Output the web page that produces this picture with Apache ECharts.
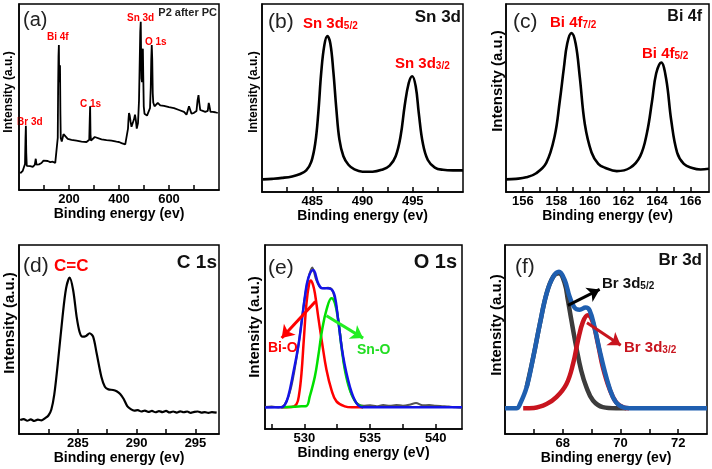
<!DOCTYPE html>
<html><head><meta charset="utf-8">
<script src="https://cdn.jsdelivr.net/npm/echarts@6/dist/echarts.min.js"></script>
<style>html,body{margin:0;padding:0;background:#fff}#c{width:712px;height:469px}</style>
</head><body><div id="c"></div>
<script>
// ---------- data (binding energy eV, intensity a.u. scaled 0-100) ----------
const surveyData = [[5,9],[10,9.5],[15,10.3],[20,10.8],[24,14],[26,28],[27.5,34.5],[29,20],[31,13],[36,12],[45,12.8],[55,12.4],[63,13.5],[67,16.8],[70,13.6],[80,13.8],[90,14.5],[98,15.8],[105,15.2],[115,15.6],[125,15],[135,15.2],[145,14.6],[152,15.2],[155,28],[156.5,55],[158,72],[159.5,78],[160.5,62],[162,58],[163,62],[164,67],[165.5,42],[167,28],[171,26],[175,27],[178,30],[181,29],[186,29.5],[195,27.5],[210,27],[230,26.5],[250,26],[270,25.8],[278,25.2],[281,27],[283,38],[284.5,45],[286,30],[288,26.5],[295,27],[303,28.5],[310,27.8],[330,27.2],[350,26.8],[370,26.5],[390,26],[400,25.8],[410,25.2],[425,24.5],[432,25],[436,33],[438,38],[440,41.4],[443,40],[446,37],[450,34],[456,35],[460,38],[464,40.5],[467,38],[471,33],[476,36],[480,48],[483,70],[485,85],[487,90.5],[488.5,72],[490,60],[492,58],[494,70],[495.5,76],[497,62],[499,45],[502,41],[506,40.5],[512,40],[518,42],[524,44],[527,55],[529,70],[531,78],[533,70],[535,52],[537,47],[542,45],[550,46],[555,46.8],[565,45.5],[580,45.2],[600,44.5],[620,44],[640,43],[660,42],[670,40.5],[675,41.5],[680,45],[685,43],[690,41],[700,41.5],[710,42.5],[714,48],[718,51],[721,47],[725,43],[735,42.5],[745,42],[755,42.5],[759,46.8],[762,45],[766,42],[775,42],[785,41.8],[795,41.4]];

const sn3dData = [[480.1,6.7],[481,7],[482,7.5],[483,8.3],[483.8,9.6],[484.4,11.5],[484.9,16],[485.3,26],[485.6,42],[485.9,64],[486.2,78],[486.5,83],[486.8,79],[487.1,64],[487.4,44],[487.7,28],[488.1,19],[488.6,14.5],[489.2,12],[490,10.8],[491,10.8],[492,12],[492.7,14],[493.3,19],[493.8,30],[494.2,46],[494.6,58],[494.95,61.6],[495.3,56],[495.6,42],[496,26],[496.5,17],[497.2,13],[498,11.8],[499,11.5],[500,11.5]];

const bi4fData = [[155,6.7],[155.6,7],[156.2,7.8],[156.8,10],[157.4,15.5],[157.9,29.7],[158.2,48],[158.45,66],[158.65,79],[158.9,84.5],[159.15,79],[159.4,61],[159.7,36],[160.1,21],[160.5,15],[160.9,12.9],[161.6,11.1],[162.4,12.9],[163,19.1],[163.4,31.4],[163.7,48],[163.95,63],[164.25,68.9],[164.55,60],[164.85,38],[165.2,21],[165.6,15],[166.1,12.8],[166.6,12],[167.1,12.4]];

const c1sData = [[280.1,7.4],[280.4,7.9],[280.7,7.0],[281.0,7.7],[281.3,6.9],[281.6,7.6],[281.9,7.2],[282.2,8.3],[282.5,9.8],[282.75,13],[283.0,21],[283.3,37.4],[283.7,62],[284.0,77],[284.3,82.7],[284.6,76.2],[284.9,62],[285.15,54],[285.4,51.5],[285.7,51.9],[286.0,53.3],[286.3,51.5],[286.6,42.7],[287.0,30.3],[287.3,25],[287.6,23.6],[288.0,23.3],[288.3,22.6],[288.6,21.2],[288.9,18.5],[289.2,14.8],[289.5,13.2],[289.8,12.4],[290.1,12.6],[290.4,11.9],[290.7,12.4],[291.0,11.7],[291.3,12.2],[291.6,11.5],[291.9,12.1],[292.2,11.6],[292.5,12.2],[292.8,11.4],[293.1,11.9],[293.4,11.3],[293.7,12],[294.0,11.5],[294.3,11.9],[294.6,11.2],[294.9,11.7],[295.2,11.9],[295.5,11.3],[295.8,11.6],[296.1,11.2],[296.4,11.6],[296.8,11.3]];

const o1sRaw = [[527.0,11.9],[527.5,12.2],[528,11.7],[528.5,13.3],[529,23],[529.5,43],[530,70],[530.3,82],[530.6,87.8],[530.9,81],[531.2,77],[531.5,76.5],[531.8,76.8],[532.1,75.8],[532.4,68],[532.7,53],[533,36],[533.3,26],[533.6,18.5],[534,14],[534.5,12.6],[535,12.9],[535.5,12.4],[536,13],[536.5,12.6],[537,13.1],[537.5,12.7],[538,13.2],[538.5,14.1],[539,12.9],[539.5,13],[540,12.6],[540.5,12.4],[541,12.2],[541.5,11.8],[542,11.6]];
const o1sBiO = [[528.2,11.8],[529.0,11.9],[529.4,13.5],[529.6,19],[529.78,30.4],[529.95,48],[530.16,68.4],[530.35,78.5],[530.49,80.7],[530.65,78.5],[530.8,73.8],[531.05,61.1],[531.35,46.7],[531.68,32.2],[532.06,21.3],[532.44,15],[533.08,12.3],[533.6,11.8],[534.47,11.8]];
const o1sSnO = [[528.27,11.8],[529.78,12.3],[530.16,12.5],[530.41,17.7],[530.8,28.6],[531.05,39.4],[531.35,53.9],[531.68,64.7],[532.06,71.1],[532.32,68.4],[532.57,59.3],[532.82,44.8],[533.08,32.2],[533.46,21.3],[533.96,14.1],[534.47,11.8]];
const o1sFit = [[527.0,11.75],[528.27,11.8],[528.52,13.2],[528.77,17.7],[529.15,30.4],[529.53,44.8],[529.78,57.5],[530.04,72],[530.29,81.9],[530.67,86.4],[531.05,79.2],[531.35,76.5],[531.68,76.5],[532.06,75.9],[532.32,72],[532.57,59.3],[532.95,39.4],[533.46,23.1],[533.96,14.1],[534.47,11.8],[542.0,11.8]];

const br3dFit = [[66.0,13.6],[66.4,13.6],[66.52,15.9],[66.75,24.8],[66.98,40.7],[67.21,58.4],[67.44,74.3],[67.67,83.2],[67.87,85.8],[68.07,81.4],[68.24,72.6],[68.41,66.9],[68.59,65.8],[68.79,66.9],[68.93,65.5],[69.10,56.6],[69.28,44.2],[69.51,30.1],[69.74,19.5],[69.97,15],[70.31,13.6],[73,13.6]];
const br3d52 = [[66.75,24.8],[66.98,40.7],[67.21,58.4],[67.44,74.3],[67.67,83.2],[67.87,85],[68.07,79.6],[68.18,70.8],[68.30,60.2],[68.47,46],[68.64,33.6],[68.82,24.8],[69.05,17.7],[69.39,14.2],[69.85,13.6],[70.2,13.6]];
const br3d32 = [[66.63,13.6],[67.0,13.8],[67.44,15.9],[67.78,19.5],[68.13,26.5],[68.36,37.2],[68.53,49.6],[68.70,59.3],[68.87,62.8],[69.04,59.3],[69.22,47.8],[69.39,35.4],[69.62,23.9],[69.85,16.8],[70.08,14.2],[70.3,13.6]];

// axis ticks / labels
const ticksA = [100,200,300,400,500,600,700], labelsA = [200,400,600];
const ticksB = [482.5,485,487.5,490,492.5,495,497.5], labelsB = [485,490,495];
const ticksC = [156,157,158,159,160,161,162,163,164,165,166], labelsC = [156,158,160,162,164,166];
const ticksD = [282.5,285,287.5,290,292.5,295], labelsD = [285,290,295];
const ticksE = [527.5,530,532.5,535,537.5,540], labelsE = [530,535,540];
const ticksF = [67,68,69,70,71,72], labelsF = [68,70,72];

// ---------- chart ----------
const FONT = '"Liberation Sans", Arial, sans-serif';
const grids = [
  {left:19, top:4, width:200, height:186},
  {left:262, top:4, width:201, height:188},
  {left:506, top:4, width:203, height:188},
  {left:19, top:245, width:200, height:189},
  {left:265, top:245, width:197, height:184},
  {left:505, top:245, width:202, height:189}
].map(g => Object.assign(g, {show:true, borderColor:'#000', borderWidth:1.5, backgroundColor:'transparent'}));

function xAx(i, min, max, ticks, labels, name, gap) {
  return {type:'value', gridIndex:i, min:min, max:max, name:name, nameLocation:'middle', nameGap:gap,
    nameTextStyle:{fontFamily:FONT, fontWeight:'bold', fontSize:14, color:'#000'},
    axisLine:{show:true, onZero:false, lineStyle:{color:'#000', width:1.5}},
    axisTick:{show:true, inside:true, length:5, lineStyle:{color:'#000', width:1.5}, customValues:ticks},
    axisLabel:{show:true, customValues:labels, margin:3, fontFamily:FONT, fontWeight:'bold', fontSize:13, color:'#000'},
    splitLine:{show:false}};
}
function yAx(i) {
  return {type:'value', gridIndex:i, min:0, max:100,
    axisLine:{show:true, onZero:false, lineStyle:{color:'#000', width:1.5}},
    axisTick:{show:false}, axisLabel:{show:false}, splitLine:{show:false}};
}
function line(i, data, color, width, smooth, extra) {
  return Object.assign({type:'line', xAxisIndex:i, yAxisIndex:i, data:data, symbol:'none', showSymbol:false,
    smooth:smooth, lineStyle:{color:color, width:width}, silent:true}, extra || {});
}
function arrow(x1, y1, x2, y2, color) {
  return {markLine:{silent:true, symbol:['none','arrow'], symbolSize:12, animation:false,
    label:{show:false}, lineStyle:{color:color, width:3, type:'solid'},
    data:[[{coord:[x1,y1]},{coord:[x2,y2]}]]}};
}
function txt(x, y, text, font, color, align) {
  return {type:'text', x:x, y:y, silent:true, style:{text:text, font:font, fill:color,
    align:align||'left', verticalAlign:'middle', textAlign:align||'left', textVerticalAlign:'middle'}};
}
function ytitle(x, y, size) {
  return {type:'text', x:x, y:y, rotation:Math.PI/2, silent:true, style:{text:'Intensity (a.u.)',
    font:'bold '+size+'px '+FONT, fill:'#000', align:'center', verticalAlign:'middle', textAlign:'center', textVerticalAlign:'middle'}};
}
function subTxt(x, y, main, sub, color, size, ssize) {
  return {type:'text', x:x, y:y, silent:true, style:{
    text:'{m|'+main+'}{s|'+sub+'}', align:'left', verticalAlign:'middle',
    rich:{
      m:{fontFamily:FONT, fontWeight:'bold', fontSize:size, fill:color, color:color, lineHeight:size+2, verticalAlign:'bottom'},
      s:{fontFamily:FONT, fontWeight:'bold', fontSize:ssize, fill:color, color:color, lineHeight:ssize-3, verticalAlign:'bottom'}
    }}};
}
const RED = '#ff0000';
const graphics = [
  ytitle(9, 92, 12), ytitle(254, 92, 12), ytitle(498, 81, 15),
  ytitle(10, 323, 15), ytitle(255, 327, 15), ytitle(497, 325, 15),
  txt(23, 20, '(a)', '20px '+FONT, '#222'),
  txt(268, 22, '(b)', '21px '+FONT, '#222'),
  txt(513, 22, '(c)', '21px '+FONT, '#222'),
  txt(23, 266, '(d)', '21px '+FONT, '#222'),
  txt(268, 268, '(e)', '21px '+FONT, '#222'),
  txt(515, 267, '(f)', '21px '+FONT, '#222'),
  txt(217, 13, 'P2 after PC', 'bold 11px '+FONT, '#222', 'right'),
  txt(461, 17, 'Sn 3d', 'bold 17px '+FONT, '#111', 'right'),
  txt(702, 17, 'Bi 4f', 'bold 16px '+FONT, '#111', 'right'),
  txt(217, 263, 'C 1s', 'bold 19px '+FONT, '#111', 'right'),
  txt(457, 262, 'O 1s', 'bold 20px '+FONT, '#111', 'right'),
  txt(702, 260, 'Br 3d', 'bold 17px '+FONT, '#111', 'right'),
  txt(127, 18, 'Sn 3d', 'bold 10px '+FONT, RED),
  txt(47, 37, 'Bi 4f', 'bold 10px '+FONT, RED),
  txt(145, 42, 'O 1s', 'bold 10px '+FONT, RED),
  txt(80, 104, 'C 1s', 'bold 10px '+FONT, RED),
  txt(17, 122, 'Br 3d', 'bold 10px '+FONT, RED),
  subTxt(303, 23, 'Sn 3d', '5/2', RED, 15, 10),
  subTxt(395, 63, 'Sn 3d', '3/2', RED, 15, 10),
  subTxt(550, 22, 'Bi 4f', '7/2', RED, 15, 10),
  subTxt(642, 53, 'Bi 4f', '5/2', RED, 15, 10),
  txt(54, 266, 'C=C', 'bold 17px '+FONT, RED),
  txt(268, 348, 'Bi-O', 'bold 14px '+FONT, RED),
  txt(357, 350, 'Sn-O', 'bold 14px '+FONT, '#22dd22'),
  subTxt(602, 283, 'Br 3d', '5/2', '#111', 15, 10),
  subTxt(624, 347, 'Br 3d', '3/2', '#c8141e', 15, 10)
];

const option = {
  animation:false,
  grid:grids,
  xAxis:[
    xAx(0, 0, 800, ticksA, labelsA, 'Binding energy (ev)', 12),
    xAx(1, 480, 500, ticksB, labelsB, 'Binding energy (ev)', 11),
    xAx(2, 155, 167.1, ticksC, labelsC, 'Binding energy (ev)', 11),
    xAx(3, 280, 297, ticksD, labelsD, 'Binding energy (ev)', 15),
    xAx(4, 527, 542, ticksE, labelsE, 'Binding energy (eV)', 15),
    xAx(5, 66, 73, ticksF, labelsF, 'Binding energy (ev)', 13)
  ],
  yAxis:[yAx(0), yAx(1), yAx(2), yAx(3), yAx(4), yAx(5)],
  series:[
    line(0, surveyData, '#000', 1.8, false),
    line(1, sn3dData, '#000', 2.6, 0.4),
    line(2, bi4fData, '#000', 2.6, 0.4),
    line(3, c1sData, '#000', 2.2, 0.3),
    line(4, o1sRaw, '#555', 2, 0.3),
    line(4, o1sBiO, '#ff0000', 2.5, 0.4, arrow(530.84, 69.3, 528.27, 49.4, '#ff0000')),
    line(4, o1sSnO, '#00e000', 2.5, 0.4, arrow(531.68, 61.5, 534.47, 49.4, '#22ee22')),
    line(4, o1sFit, '#1414e6', 2.5, 0.4),
    line(5, br3d52, '#3c3c3c', 4.5, 0.4, arrow(68.18, 68.1, 69.28, 76.5, '#000')),
    line(5, br3d32, '#c8141e', 4.5, 0.4, arrow(68.84, 58.8, 70.01, 46.9, '#c8141e')),
    line(5, br3dFit, '#1f5fb0', 4.5, 0.4)
  ],
  graphic:graphics
};
const chart = echarts.init(document.getElementById('c'), null, {renderer:'canvas'});
chart.setOption(option);
</script>
</body></html>
